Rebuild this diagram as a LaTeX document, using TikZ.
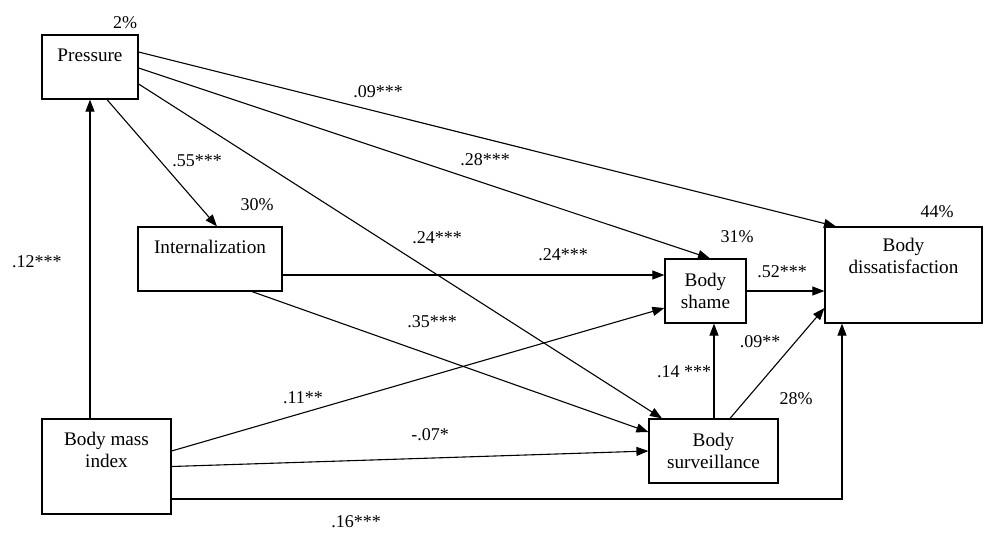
\documentclass[tikz,border=0pt]{standalone}
\usepackage{fontspec}
\setmainfont{Liberation Serif}
\newfontfamily\tnr{Liberation Serif}
\usetikzlibrary{arrows.meta}
\begin{document}
\begin{tikzpicture}[x=1pt,y=-1pt,
  box/.style={draw,line width=1.2pt,inner sep=0pt,rectangle},
  txt/.style={font=\tnr\fontsize{19.2}{21.5}\selectfont,inner sep=0pt,align=center},
  lab/.style={font=\tnr\fontsize{18}{20}\selectfont,inner sep=0pt},
  arr/.style={line width=1.1pt,-{Triangle[length=12pt,width=9pt]}},
  ln/.style={line width=1.1pt}]
\useasboundingbox (0,0) rectangle (985,533);
% boxes
\node[box,minimum width=96pt,minimum height=64pt] (P) at (90,67) {};
\node[box,minimum width=144pt,minimum height=64pt] (I) at (210,259) {};
\node[box,minimum width=129pt,minimum height=95pt] (B) at (106.5,466.5) {};
\node[box,minimum width=81pt,minimum height=64pt] (S) at (705.5,291) {};
\node[box,minimum width=129pt,minimum height=64pt] (V) at (713.5,451) {};
\node[box,minimum width=157pt,minimum height=96pt] (D) at (903.5,275) {};
% box texts
\node[txt] (tP) at (90,55) {Pressure};
\node[txt] (tI) at (210,247) {Internalization};
\node[txt] (tB) at (106.5,450) {Body mass\\index};
\node[txt] (tS) at (705.5,291) {Body\\shame};
\node[txt] (tV) at (713.5,451) {Body\\surveillance};
\node[txt] (tD) at (903.5,256) {Body\\dissatisfaction};
% percentages
\node[lab] (p1) at (125,23) {2\%};
\node[lab] (p2) at (257,205) {30\%};
\node[lab] (p3) at (737,237) {31\%};
\node[lab] (p4) at (937,212) {44\%};
\node[lab] (p5) at (796,399) {28\%};
% connectors
\draw[arr] ([xshift=-16.5pt]B.north) -- (P.south);
\draw[arr] ([xshift=17pt]P.south) -- ([xshift=7pt]I.north);
\draw[arr] ([yshift=15pt]P.east) -- ([xshift=-67.5pt]D.north);
\draw[arr] ([yshift=-1pt]P.east) -- ([xshift=4.5pt]S.north);
\draw[arr] ([yshift=-17pt]P.east) -- ([xshift=-51.5pt]V.north);
\draw[arr] ([yshift=-16pt]I.east) -- ([yshift=16pt]S.west);
\draw[arr] ([xshift=42pt]I.south) -- ([yshift=19pt]V.west);
\draw[arr] ([yshift=15.5pt]B.east) -- ([yshift=-17pt]S.west);
\draw[arr] (B.east) -- (V.west);
\draw[arr] ([yshift=-32.5pt]B.east) -| ([xshift=-61.5pt]D.south);
\draw[arr] ([xshift=0.5pt]V.north) -- ([xshift=8.5pt]S.south);
\draw[arr] ([xshift=16.5pt]V.north) -- ([yshift=-33pt]D.west);
\draw[arr] (S.east) -- ([yshift=-16pt]D.west);
% coefficients
\node[lab] (c1) at (378,92) {.09***};
\node[lab] (c2) at (485,160) {.28***};
\node[lab] (c3) at (437,238) {.24***};
\node[lab] (c4) at (197,161) {.55***};
\node[lab] (c5) at (37,262) {.12***};
\node[lab] (c6) at (563,255) {.24***};
\node[lab] (c7) at (432,322) {.35***};
\node[lab] (c8) at (303,398) {.11**};
\node[lab] (c9) at (430,435) {-.07*};
\node[lab] (c10) at (356,522) {.16***};
\node[lab] (c11) at (684,372) {.14 ***};
\node[lab] (c12) at (760,342) {.09**};
\node[lab] (c13) at (782,272) {.52***};
\end{tikzpicture}
\end{document}
